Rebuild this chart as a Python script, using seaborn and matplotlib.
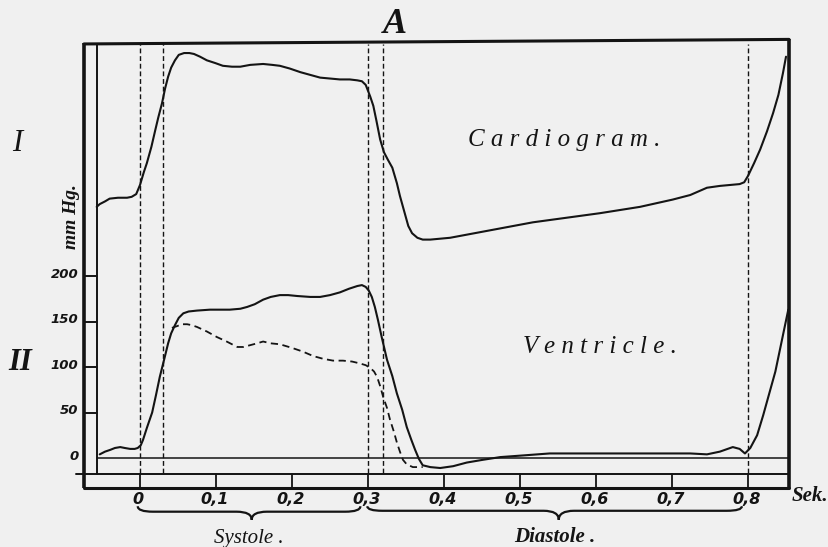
import matplotlib
matplotlib.use("Agg")
import matplotlib.pyplot as plt
from matplotlib.path import Path
from matplotlib.patches import PathPatch
import pandas as pd
import seaborn as sns

# ---- scales -------------------------------------------------------------
time_ticks = [0.0, 0.1, 0.2, 0.3, 0.4, 0.5, 0.6, 0.7, 0.8]
time_labels = ["0", "0,1", "0,2", "0,3", "0,4", "0,5", "0,6", "0,7", "0,8"]
pressure_ticks = [0, 50, 100, 150, 200]
pressure_labels = ["0", "50", "100", "150", "200"]

# event markers (s): onset / end of systole phases, next beat
event_times = [0.0, 0.03, 0.30, 0.32, 0.80]

# ---- I: cardiogram (drawn above the pressure scale) ---------------------
cardio_t = [-0.057, -0.053, -0.046, -0.040, -0.029, -0.017, -0.011, -0.005,
            0.000, 0.005, 0.009, 0.015, 0.020, 0.024, 0.029, 0.033, 0.037,
            0.041, 0.046, 0.051, 0.058, 0.065, 0.071, 0.079, 0.088, 0.099,
            0.109, 0.121, 0.132, 0.145, 0.162, 0.174, 0.184, 0.197, 0.211,
            0.224, 0.237, 0.250, 0.263, 0.276, 0.286, 0.292, 0.297, 0.303,
            0.307, 0.311, 0.316, 0.321, 0.326, 0.332, 0.338, 0.342, 0.347,
            0.353, 0.358, 0.365, 0.372, 0.382, 0.408, 0.517, 0.605, 0.658,
            0.701, 0.724, 0.746, 0.763, 0.789, 0.795, 0.800, 0.808, 0.816,
            0.825, 0.833, 0.840, 0.846, 0.850]
cardio_v = [276, 279, 282, 285, 286, 286, 287, 290,
            300, 314, 324, 342, 360, 374, 390, 406, 419,
            429, 437, 443, 445, 445, 444, 441, 437, 434,
            431, 430, 430, 432, 433, 432, 431, 428, 424,
            421, 418, 417, 416, 416, 415, 414, 410, 397,
            387, 371, 350, 336, 328, 319, 302, 288, 273,
            255, 247, 242, 240, 240, 242, 259, 269, 276,
            284, 289, 297, 299, 301, 303, 310, 324, 339,
            359, 379, 399, 423, 441]

# ---- II: ventricular pressure (mm Hg) -----------------------------------
vent_t = [-0.053, -0.046, -0.039, -0.033, -0.026, -0.020, -0.013, -0.007,
          -0.003, 0.001, 0.004, 0.009, 0.016, 0.021, 0.026, 0.032, 0.037,
          0.041, 0.046, 0.051, 0.057, 0.064, 0.075, 0.092, 0.118, 0.132,
          0.141, 0.151, 0.162, 0.172, 0.184, 0.195, 0.207, 0.224, 0.237,
          0.250, 0.263, 0.275, 0.286, 0.292, 0.297, 0.301, 0.305, 0.309,
          0.313, 0.318, 0.325, 0.332, 0.338, 0.345, 0.351, 0.357, 0.362,
          0.367, 0.372, 0.382, 0.395, 0.412, 0.430, 0.451, 0.474, 0.507,
          0.539, 0.628, 0.724, 0.746, 0.763, 0.780, 0.789, 0.796, 0.803,
          0.812, 0.820, 0.829, 0.836, 0.842, 0.847, 0.853]
vent_p = [4, 7, 9, 11, 12, 11, 10, 10,
          11, 14, 20, 33, 50, 69, 89, 109, 126,
          137, 146, 154, 159, 161, 162, 163, 163, 164,
          166, 169, 174, 177, 179, 179, 178, 177, 177,
          179, 182, 186, 189, 190, 188, 184, 177, 166,
          152, 133, 108, 90, 71, 53, 34, 20, 9,
          -1, -8, -10, -11, -9, -5, -2, 1, 3,
          5, 5, 5, 4, 7, 12, 10, 5, 11,
          25, 47, 74, 95, 119, 139, 163]

# ---- II: arterial pressure, dashed (mm Hg) ------------------------------
arterial_t = [0.042, 0.049, 0.055, 0.062, 0.068, 0.075, 0.088, 0.101, 0.114,
              0.128, 0.136, 0.145, 0.154, 0.162, 0.172, 0.184, 0.200, 0.214,
              0.228, 0.241, 0.254, 0.267, 0.279, 0.289, 0.297, 0.303, 0.308,
              0.312, 0.316, 0.320, 0.325, 0.329, 0.334, 0.338, 0.342, 0.346,
              0.351, 0.359, 0.372]
arterial_p = [143, 145, 147, 147, 146, 144, 139, 133, 128,
              122, 122, 124, 126, 128, 126, 125, 121, 117,
              112, 109, 107, 107, 106, 104, 102, 99, 95,
              89, 79, 67, 55, 42, 29, 17, 7, -2,
              -7, -10, -10]

INK = "#141414"
PAPER = "#f0f0f0"
SERIF = "Liberation Serif"

sns.set_theme(style="white")
plt.rcParams["font.family"] = ["Liberation Serif", "DejaVu Sans"]

fig = plt.figure(figsize=(8.29, 5.47), dpi=100, facecolor=PAPER)
ax = fig.add_axes([0, 0, 1, 1])
ax.set_facecolor(PAPER)
ax.set_xlim(-140 / 760, 689 / 760)
ax.set_ylim(-89 / 0.91, 458 / 0.91)

# frame of the tracing
x_left, x_inner, x_right = -0.0737, -0.0566, 0.854
y_top, y_strip_top, y_strip_bot = 455, -17.6, -32.5

ax.plot([x_left, x_left], [y_strip_bot, y_top + 1], color=INK, lw=2.6, solid_capstyle="butt")
ax.plot([x_inner, x_inner], [y_strip_top, y_top], color=INK, lw=1.4)
ax.plot([x_right, x_right], [y_strip_bot, y_top + 5], color=INK, lw=2.6, solid_capstyle="butt")
ax.plot([x_left, x_right], [y_top, y_top + 5], color=INK, lw=2.2)
ax.plot([x_left, x_right], [y_strip_bot, y_strip_bot], color=INK, lw=2.2)
ax.plot([x_left - 0.01, x_right], [y_strip_top, y_strip_top], color=INK, lw=1.4)
ax.plot([x_inner, x_right], [0, 0], color=INK, lw=1.1)

# pressure ruler between the two left verticals
for p, lab in zip(pressure_ticks, pressure_labels):
    if p > 0:
        ax.plot([x_left, x_inner], [p, p], color=INK, lw=1.4)
    ax.text(-0.081, p + 2, lab, ha="right", va="center", fontsize=9.5,
            fontweight="bold", fontstyle="italic", family="DejaVu Sans", color=INK)

# time ruler
for t, lab in zip(time_ticks, time_labels):
    ax.plot([t, t], [y_strip_top, y_strip_bot], color=INK, lw=1.3)
    ax.text(t - 0.002, -46, lab, ha="center", va="center", fontsize=11.5,
            fontweight="bold", fontstyle="italic", family="DejaVu Sans", color=INK)
ax.text(0.858, -42, "Sek.", ha="left", va="center", fontsize=15,
        fontweight="bold", fontstyle="italic", family=SERIF, color=INK)

# event markers
for t in event_times:
    ax.plot([t, t], [-16, y_top], color=INK, lw=1.0, linestyle=(0, (3.5, 2)))

# traces
cardio = pd.DataFrame({"t": cardio_t, "v": cardio_v})
vent = pd.DataFrame({"t": vent_t, "v": vent_p})
arterial = pd.DataFrame({"t": arterial_t, "v": arterial_p})

line_kw = dict(color=INK, estimator=None, solid_joinstyle="round",
               solid_capstyle="round")
sns.lineplot(data=cardio, x="t", y="v", ax=ax, lw=1.5, **line_kw)
sns.lineplot(data=vent, x="t", y="v", ax=ax, lw=1.5, **line_kw)
sns.lineplot(data=arterial, x="t", y="v", ax=ax, color=INK, lw=1.3,
             estimator=None, linestyle=(0, (4, 2.5)))
ax.set_axis_off()


def brace(t0, t1, tip, y0, ym, yt, r=0.02):
    verts = [(t0, y0), (t0, ym), (t0 + r, ym),
             (tip - r, ym), (tip, ym), (tip, yt),
             (tip, ym), (tip + r, ym),
             (t1 - r, ym), (t1, ym), (t1, y0)]
    codes = [Path.MOVETO, Path.CURVE3, Path.CURVE3,
             Path.LINETO, Path.CURVE3, Path.CURVE3,
             Path.CURVE3, Path.CURVE3,
             Path.LINETO, Path.CURVE3, Path.CURVE3]
    ax.add_patch(PathPatch(Path(verts, codes), fill=False, ec=INK, lw=1.6))


brace(-0.003, 0.290, 0.147, -53, -59, -68)
brace(0.299, 0.792, 0.551, -53, -58, -68)

ax.text(0.143, -88, "Systole .", ha="center", va="center", fontsize=15,
        fontstyle="italic", family=SERIF, color=INK)
ax.text(0.546, -87, "Diastole .", ha="center", va="center", fontsize=15,
        fontweight="bold", fontstyle="italic", family=SERIF, color=INK)

# headings and trace labels
ax.text(0.3355, 476, "A", ha="center", va="center", fontsize=26,
        fontweight="bold", fontstyle="italic", family=SERIF, color=INK)
ax.text(-0.162, 346, "I", ha="center", va="center", fontsize=22,
        fontstyle="italic", family=SERIF, color=INK)
ax.text(-0.158, 105, "II", ha="center", va="center", fontsize=22,
        fontweight="bold", fontstyle="italic", family=SERIF, color=INK)
ax.text(-0.0895, 265, "mm Hg.", ha="center", va="center", rotation=90,
        fontsize=14, fontweight="bold", fontstyle="italic", family=SERIF, color=INK)
ax.text(0.558, 349, "C a r d i o g r a m .", ha="center", va="center",
        fontsize=18, fontstyle="italic", family=SERIF, color=INK)
ax.text(0.605, 122, "V e n t r i c l e .", ha="center", va="center",
        fontsize=18, fontstyle="italic", family=SERIF, color=INK)

fig.savefig("out.png", dpi=100, facecolor=PAPER)
